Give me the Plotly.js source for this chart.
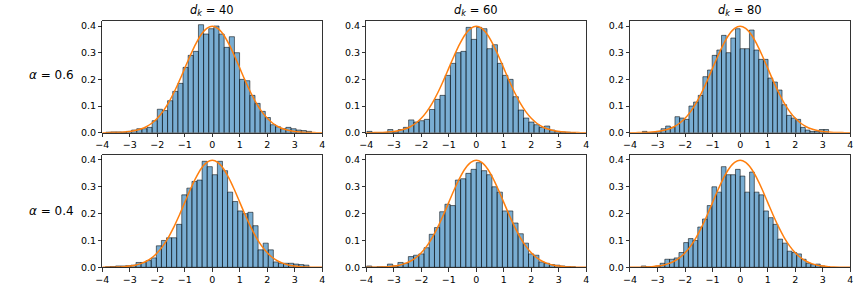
<!DOCTYPE html>
<html><head><meta charset="utf-8">
<script src="https://cdn.plot.ly/plotly-3.0.1.min.js"></script>
<style>html,body{margin:0;padding:0;background:#fff;}#chart{width:859px;height:289px;}</style>
</head><body><div id="chart"></div>
<script>
// ---- data ----
const dkValues = [40, 60, 80];
const alphaValues = ["0.6", "0.4"];
const xTickVals = [-4, -3, -2, -1, 0, 1, 2, 3, 4];
const xTickText = ["\u22124", "\u22123", "\u22122", "\u22121", "0", "1", "2", "3", "4"];
const yTickVals = [0, 0.1, 0.2, 0.3, 0.4];
const yTickText = ["0.0", "0.1", "0.2", "0.3", "0.4"];

// histogram bins (left edge of first bin, bin width), panels row-major
const binLeft  = [-3.87, -3.98, -3.55, -3.885, -3.99, -3.59];
const binWidth = [0.187, 0.19, 0.169, 0.185, 0.19, 0.171];

// densities (alpha = 0.6)
const dens_a06_dk40 = [0.002,0.003,0.003,0.002,0.005,0.01,0.015,0.015,0.02,0.045,
  0.088,0.083,0.12,0.155,0.185,0.245,0.29,0.305,0.405,0.37,
  0.39,0.40,0.37,0.32,0.36,0.30,0.20,0.195,0.14,0.11,
  0.08,0.057,0.03,0.022,0.015,0.02,0.015,0.01,0.008,0.005];
const dens_a06_dk60 = [0.005,0,0,0,0.012,0.003,0.012,0.02,0.048,0.04,
  0.045,0.05,0.087,0.125,0.14,0.215,0.26,0.30,0.305,0.395,
  0.35,0.395,0.39,0.315,0.33,0.26,0.215,0.20,0.135,0.085,
  0.055,0.04,0.03,0.02,0.025,0.01,0.005,0.003,0.002,0];
const dens_a06_dk80 = [0.005,0,0,0.005,0.015,0.025,0.02,0.06,0.055,0.05,
  0.10,0.115,0.14,0.21,0.235,0.29,0.31,0.365,0.30,0.355,
  0.39,0.315,0.315,0.385,0.31,0.275,0.275,0.205,0.19,0.16,
  0.105,0.065,0.055,0.05,0.02,0.01,0.005,0.005,0.012,0.012];
// densities (alpha = 0.4)
const dens_a04_dk40 = [0.002,0.003,0.005,0.005,0.006,0.008,0.018,0.018,0.025,0.035,
  0.08,0.10,0.11,0.11,0.16,0.27,0.295,0.32,0.325,0.395,
  0.375,0.345,0.395,0.36,0.28,0.245,0.21,0.20,0.205,0.155,
  0.065,0.09,0.065,0.02,0.015,0.015,0.015,0.012,0.01,0.008];
const dens_a04_dk60 = [0.005,0,0.002,0.002,0.012,0.005,0.018,0.015,0.04,0.045,
  0.05,0.073,0.123,0.148,0.207,0.235,0.23,0.325,0.33,0.35,
  0.365,0.39,0.36,0.345,0.30,0.28,0.21,0.21,0.165,0.125,
  0.09,0.05,0.045,0.02,0.015,0.01,0.008,0.005,0.003,0.002];
const dens_a04_dk80 = [0.005,0.002,0,0.005,0.015,0.03,0.03,0.035,0.055,0.092,
  0.107,0.10,0.15,0.18,0.23,0.30,0.28,0.375,0.345,0.345,
  0.365,0.34,0.28,0.355,0.28,0.27,0.21,0.185,0.16,0.105,
  0.09,0.06,0.055,0.05,0.03,0.015,0.01,0.012,0.005,0.003];

// reference standard-normal density curve
const pdfX = [-4,-3.8,-3.6,-3.4,-3.2,-3,-2.8,-2.6,-2.4,-2.2,-2,-1.8,-1.6,-1.4,-1.2,-1,-0.8,-0.6,-0.4,-0.2,
  0,0.2,0.4,0.6,0.8,1,1.2,1.4,1.6,1.8,2,2.2,2.4,2.6,2.8,3,3.2,3.4,3.6,3.8,4];
const pdfY = [0.0001,0.0003,0.0006,0.0012,0.0024,0.0044,0.0079,0.0136,0.0224,0.0355,0.0540,0.0790,0.1109,0.1497,0.1942,0.2420,0.2897,0.3332,0.3683,0.3910,
  0.3989,0.3910,0.3683,0.3332,0.2897,0.2420,0.1942,0.1497,0.1109,0.0790,0.0540,0.0355,0.0224,0.0136,0.0079,0.0044,0.0024,0.0012,0.0006,0.0003,0.0001];

const panels = [dens_a06_dk40, dens_a06_dk60, dens_a06_dk80, dens_a04_dk40, dens_a04_dk60, dens_a04_dk80];

// ---- layout geometry ----
const colDomains = [[0.1191, 0.3752], [0.4264, 0.6825], [0.7334, 0.9899]];
const rowDomains = [[0.5408, 0.9284], [0.0751, 0.4651]];
const FONT = "DejaVu Sans, Liberation Sans, sans-serif";

const traces = [];
const layout = {
  width: 859, height: 289,
  margin: {l: 0, r: 0, t: 0, b: 0},
  paper_bgcolor: "#fff", plot_bgcolor: "#fff",
  showlegend: false, bargap: 0, barmode: "overlay",
  font: {family: FONT, size: 9.5, color: "#000"},
  annotations: []
};

panels.forEach((dens, p) => {
  const idx = p + 1;
  const xa = idx === 1 ? "x" : "x" + idx;
  const ya = idx === 1 ? "y" : "y" + idx;
  const centers = dens.map((_, i) => binLeft[p] + (i + 0.5) * binWidth[p]);
  traces.push({
    type: "bar", x: centers, y: dens, width: binWidth[p],
    xaxis: xa, yaxis: ya,
    marker: {color: "rgba(31,119,180,0.6)", line: {color: "rgba(0,0,0,0.6)", width: 0.9}},
    hoverinfo: "skip"
  });
  traces.push({
    type: "scatter", mode: "lines", x: pdfX, y: pdfY,
    xaxis: xa, yaxis: ya,
    line: {color: "#ff7f0e", width: 1.5, shape: "spline"},
    hoverinfo: "skip"
  });
  const row = Math.floor(p / 3), col = p % 3;
  const axCommon = {
    showline: true, mirror: true, linecolor: "#000", linewidth: 0.8,
    showgrid: false, zeroline: false,
    ticks: "outside", ticklen: 3.5, tickwidth: 0.8, tickcolor: "#000",
    tickfont: {family: FONT, size: 9.5, color: "#000"}
  };
  layout[idx === 1 ? "xaxis" : "xaxis" + idx] = Object.assign({}, axCommon, {
    domain: colDomains[col], anchor: ya, range: [-4, 4],
    tickmode: "array", tickvals: xTickVals, ticktext: xTickText
  });
  layout[idx === 1 ? "yaxis" : "yaxis" + idx] = Object.assign({}, axCommon, {
    domain: rowDomains[row], anchor: xa, range: [0, 0.42],
    tickmode: "array", tickvals: yTickVals, ticktext: yTickText
  });
});

dkValues.forEach((dk, c) => {
  layout.annotations.push({
    xref: "paper", yref: "paper",
    x: (colDomains[c][0] + colDomains[c][1]) / 2, y: 0.963,
    xanchor: "center", yanchor: "middle", showarrow: false,
    text: "<i>d</i><sub><i>k</i></sub> = " + dk,
    font: {family: FONT, size: 11.5, color: "#000"}
  });
});
alphaValues.forEach((a, r) => {
  layout.annotations.push({
    xref: "paper", yref: "paper",
    x: 0.0594, y: r === 0 ? 0.7405 : 0.27,
    xanchor: "center", yanchor: "middle", showarrow: false,
    text: "<i>\u03b1</i> = " + a,
    font: {family: FONT, size: 12, color: "#000"}
  });
});

Plotly.newPlot("chart", traces, layout, {staticPlot: true, displayModeBar: false});
</script>
</body></html>
